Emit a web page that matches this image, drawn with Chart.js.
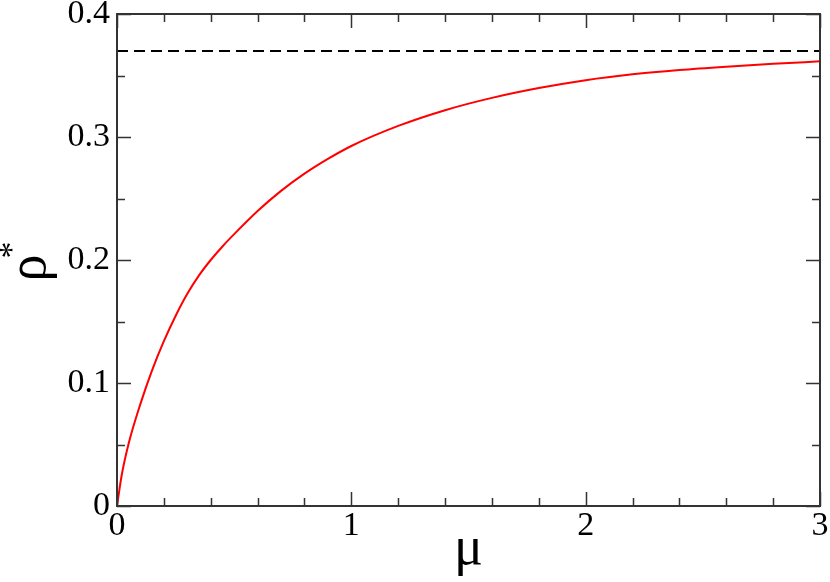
<!DOCTYPE html>
<html>
<head>
<meta charset="utf-8">
<script src="https://cdn.jsdelivr.net/npm/chart.js@4"></script>
<style>
  html, body { margin: 0; padding: 0; background: #fff; }
  #wrap { width: 830px; height: 582px; }
</style>
</head>
<body>
<div id="wrap"><canvas id="myChart" width="830" height="582"></canvas></div>
<script>
// values
const muValues = [0, 0.02, 0.05, 0.1, 0.15, 0.2, 0.25, 0.3, 0.35, 0.4, 0.45, 0.5, 0.6, 0.7, 0.8, 0.9, 1.0,
                  1.2, 1.4, 1.6, 1.8, 2.0, 2.2, 2.4, 2.6, 2.8, 3.0];
const rhoValues = [0, 0.025, 0.051, 0.083, 0.1105, 0.134, 0.1545, 0.1725, 0.1875, 0.2000, 0.2110, 0.2210, 0.2398, 0.2562, 0.2702, 0.2822, 0.2927,
                   0.3090, 0.3218, 0.3318, 0.3398, 0.3462, 0.3510, 0.3545, 0.3572, 0.3595, 0.3615];
const limitMu = [0, 3];
const limitRho = [0.37, 0.37];
const xTicks = [0, 1, 2, 3];
const yTicks = [0, 0.1, 0.2, 0.3, 0.4];

const serif = '"Liberation Serif", "Times New Roman", serif';

// frame + inward ticks (major and minor) on all four sides
const frameTicks = {
    id: 'frameTicks',
    afterDatasetsDraw(chart) {
        const { ctx, chartArea: a, scales: { x, y } } = chart;
        ctx.save();
        ctx.strokeStyle = '#333';
        ctx.lineWidth = 1.5;
        ctx.beginPath();
        for (let i = 0; i <= 15; i++) {
            const v = i * 0.2;
            const len = (i % 5 === 0) ? 14 : 8;
            const px = Math.round(x.getPixelForValue(v)) + 0.5;
            ctx.moveTo(px, a.bottom); ctx.lineTo(px, a.bottom - len);
            ctx.moveTo(px, a.top); ctx.lineTo(px, a.top + len);
        }
        for (let i = 0; i <= 8; i++) {
            const v = i * 0.05;
            const len = (i % 2 === 0) ? 14 : 8;
            const py = Math.round(y.getPixelForValue(v)) + 0.5;
            ctx.moveTo(a.left, py); ctx.lineTo(a.left + len, py);
            ctx.moveTo(a.right, py); ctx.lineTo(a.right - len, py);
        }
        ctx.stroke();
        ctx.lineWidth = 2;
        ctx.strokeRect(a.left, a.top, a.right - a.left, a.bottom - a.top);

        // y axis title: rho with superscript asterisk
        ctx.fillStyle = '#000';
        ctx.save();
        ctx.translate(45, 268);
        ctx.rotate(-Math.PI / 2);
        ctx.font = '54px ' + serif;
        ctx.textAlign = 'center';
        ctx.textBaseline = 'alphabetic';
        ctx.fillText('ρ', 0, 0);
        ctx.restore();
        ctx.save();
        ctx.translate(9, 250);
        ctx.rotate(-Math.PI / 2);
        ctx.font = '34px ' + serif;
        ctx.textAlign = 'center';
        ctx.textBaseline = 'middle';
        ctx.fillText('*', 0, 4);
        ctx.restore();
        ctx.restore();
    }
};

const data = {
    datasets: [
        {
            label: 'rho*',
            data: muValues.map((m, i) => ({ x: m, y: rhoValues[i] })),
            borderColor: '#ff0000',
            borderWidth: 2,
            pointRadius: 0,
            cubicInterpolationMode: 'monotone',
            fill: false
        },
        {
            label: 'limit',
            data: limitMu.map((m, i) => ({ x: m, y: limitRho[i] })),
            borderColor: '#000',
            borderWidth: 2,
            borderDash: [11, 6],
            pointRadius: 0,
            fill: false
        }
    ]
};

const config = {
    type: 'line',
    data: data,
    options: {
        responsive: false,
        animation: false,
        layout: { autoPadding: false, padding: { left: 0, right: 10, top: 14, bottom: 0 } },
        plugins: {
            legend: { display: false },
            tooltip: { enabled: false }
        },
        scales: {
            x: {
                type: 'linear',
                min: 0,
                max: 3,
                afterFit: (s) => { s.height = 76; s.paddingLeft = 0; s.paddingRight = 0; },
                afterBuildTicks: (s) => { s.ticks = xTicks.map(v => ({ value: v })); },
                grid: { display: false, drawTicks: false },
                border: { display: false },
                ticks: {
                    color: '#000',
                    padding: 0,
                    maxRotation: 0,
                    font: { family: serif, size: 34 },
                    callback: (v) => String(v)
                },
                title: {
                    display: true,
                    text: 'μ',
                    color: '#000',
                    padding: { top: 0, bottom: 0 },
                    font: { family: serif, size: 54 }
                }
            },
            y: {
                min: 0,
                max: 0.4,
                afterFit: (s) => { s.width = 117; s.paddingTop = 0; s.paddingBottom = 0; },
                afterBuildTicks: (s) => { s.ticks = yTicks.map(v => ({ value: v })); },
                grid: { display: false, drawTicks: false },
                border: { display: false },
                ticks: {
                    color: '#000',
                    padding: 7,
                    font: { family: serif, size: 34 },
                    callback: (v) => v === 0 ? '0' : v.toFixed(1)
                }
            }
        }
    },
    plugins: [frameTicks]
};

const myChart = new Chart(document.getElementById('myChart'), config);
</script>
</body>
</html>
